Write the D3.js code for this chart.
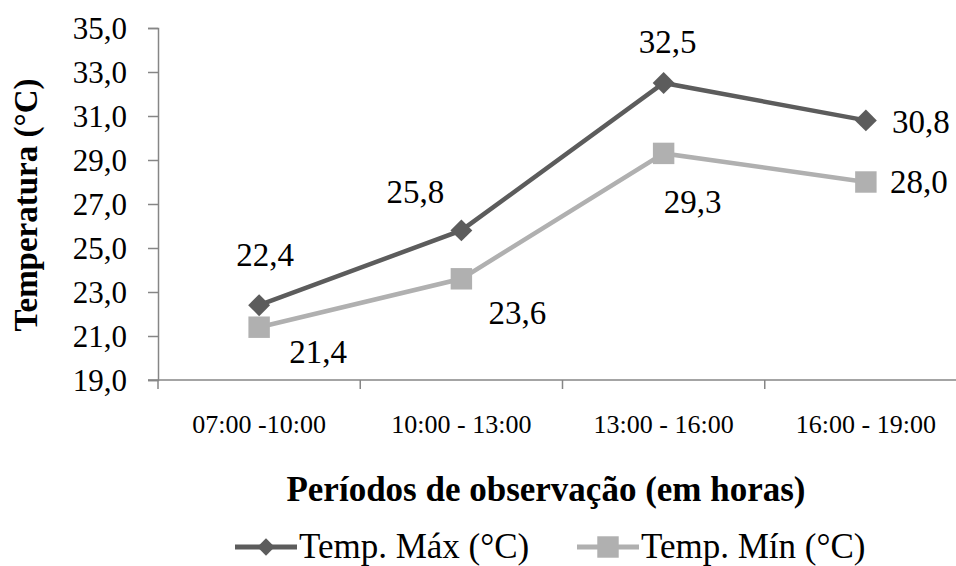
<!DOCTYPE html>
<html>
<head>
<meta charset="utf-8">
<script src="https://d3js.org/d3.v7.min.js"></script>
<style>
  body { margin: 0; background: #fff; }
  text { font-family: "Liberation Serif", "Times New Roman", serif; }
</style>
</head>
<body>
<div id="chart"></div>
<script>
// data
var periods = ["07:00 -10:00", "10:00 - 13:00", "13:00 - 16:00", "16:00 - 19:00"];
var tempMax = [22.4, 25.8, 32.5, 30.8];
var tempMin = [21.4, 23.6, 29.3, 28.0];
var yTicks = [19, 21, 23, 25, 27, 29, 31, 33, 35];
var seriesNames = ["Temp. Máx (°C)", "Temp. Mín (°C)"];

var width = 956, height = 566;
var margin = {top: 28, right: -11, bottom: 186, left: 158};
var serif = "Liberation Serif, Times New Roman, serif";

var svg = d3.select("#chart").append("svg")
  .attr("width", width)
  .attr("height", height);

var x = d3.scaleBand()
  .domain(periods)
  .range([margin.left, width - margin.right]);

var y = d3.scaleLinear()
  .domain([19, 35])
  .range([height - margin.bottom, margin.top]);

var fmt = function(v) { return d3.format(".1f")(v).replace(".", ","); };

var axisCol = "#868686";

// y axis
var yAxis = svg.append("g")
  .attr("transform", "translate(" + margin.left + ",0)")
  .call(d3.axisLeft(y).tickValues(yTicks).tickSize(10).tickFormat(fmt));
yAxis.select(".domain").attr("stroke", axisCol).attr("stroke-width", 1.5);
yAxis.selectAll(".tick line").attr("stroke", axisCol).attr("stroke-width", 1.5);
yAxis.selectAll(".tick text")
  .attr("x", -31)
  .attr("dy", "0.34em")
  .attr("font-family", serif)
  .style("font-size", "31px")
  .attr("fill", "#000");

// x axis (ticks at category boundaries)
var xAxisG = svg.append("g")
  .attr("transform", "translate(0," + y(19) + ")");
xAxisG.append("line")
  .attr("x1", margin.left - 10).attr("x2", width)
  .attr("stroke", axisCol).attr("stroke-width", 1.5);
xAxisG.selectAll(".sep")
  .data(periods)
  .enter().append("line")
  .attr("x1", function(d) { return x(d); })
  .attr("x2", function(d) { return x(d); })
  .attr("y1", 0).attr("y2", 9)
  .attr("stroke", axisCol).attr("stroke-width", 1.5);
xAxisG.selectAll(".lbl")
  .data(periods)
  .enter().append("text")
  .attr("x", function(d) { return x(d) + x.bandwidth() / 2; })
  .attr("y", 53)
  .attr("text-anchor", "middle")
  .attr("font-family", serif)
  .style("font-size", "26px")
  .text(function(d) { return d; });

// axis titles
svg.append("text")
  .attr("x", 546).attr("y", 501)
  .attr("text-anchor", "middle")
  .attr("font-family", serif)
  .style("font-size", "35px").style("font-weight", "bold")
  .text("Períodos de observação (em horas)");

svg.append("text")
  .attr("transform", "translate(37,205) rotate(-90)")
  .attr("text-anchor", "middle")
  .attr("font-family", serif)
  .style("font-size", "33px").style("font-weight", "bold")
  .text("Temperatura (°C)");

var cx = function(d, i) { return x(periods[i]) + x.bandwidth() / 2; };
var line = d3.line()
  .x(function(d, i) { return cx(d, i); })
  .y(function(d) { return y(d); });

var colMax = "#5c5c5c", colMin = "#b0b0b0";

svg.append("path").datum(tempMin)
  .attr("d", line).attr("fill", "none")
  .attr("stroke", colMin).attr("stroke-width", 4.5);
svg.append("path").datum(tempMax)
  .attr("d", line).attr("fill", "none")
  .attr("stroke", colMax).attr("stroke-width", 4.5);

var diamond = d3.symbol().type(d3.symbolSquare).size(240);
var square = d3.symbol().type(d3.symbolSquare).size(460);

svg.selectAll(".ptMax").data(tempMax).enter().append("path")
  .attr("d", diamond)
  .attr("transform", function(d, i) { return "translate(" + cx(d, i) + "," + y(d) + ") rotate(45)"; })
  .attr("fill", colMax);

svg.selectAll(".ptMin").data(tempMin).enter().append("path")
  .attr("d", square)
  .attr("transform", function(d, i) { return "translate(" + cx(d, i) + "," + y(d) + ")"; })
  .attr("fill", colMin);

// data labels (offsets relative to each point)
var maxOffsets = [[6, -39], [-46, -27], [4, -30], [55, 13]];
var minOffsets = [[59, 36], [56, 45], [29, 60], [53, 11]];

svg.selectAll(".lblMax").data(tempMax).enter().append("text")
  .attr("x", function(d, i) { return cx(d, i) + maxOffsets[i][0]; })
  .attr("y", function(d, i) { return y(d) + maxOffsets[i][1]; })
  .attr("text-anchor", "middle")
  .attr("font-family", serif)
  .style("font-size", "33px")
  .text(fmt);

svg.selectAll(".lblMin").data(tempMin).enter().append("text")
  .attr("x", function(d, i) { return cx(d, i) + minOffsets[i][0]; })
  .attr("y", function(d, i) { return y(d) + minOffsets[i][1]; })
  .attr("text-anchor", "middle")
  .attr("font-family", serif)
  .style("font-size", "33px")
  .text(fmt);

// legend
var legend = [
  {name: seriesNames[0], color: colMax, kind: "diamond", x: 235},
  {name: seriesNames[1], color: colMin, kind: "square", x: 577}
];
var lg = svg.selectAll(".legend").data(legend).enter().append("g")
  .attr("transform", function(d) { return "translate(" + d.x + ",547)"; });
lg.append("line")
  .attr("x1", 0).attr("x2", 62)
  .attr("stroke", function(d) { return d.color; })
  .attr("stroke-width", 5);
lg.append("path")
  .attr("d", function(d) { return d.kind === "square" ? square() : d3.symbol().type(d3.symbolSquare).size(150)(); })
  .attr("transform", function(d) { return "translate(31,0)" + (d.kind === "square" ? "" : " rotate(45)"); })
  .attr("fill", function(d) { return d.color; });
lg.append("text")
  .attr("x", 64).attr("y", 11)
  .attr("font-family", serif)
  .style("font-size", "35px")
  .text(function(d) { return d.name; });
</script>
</body>
</html>
